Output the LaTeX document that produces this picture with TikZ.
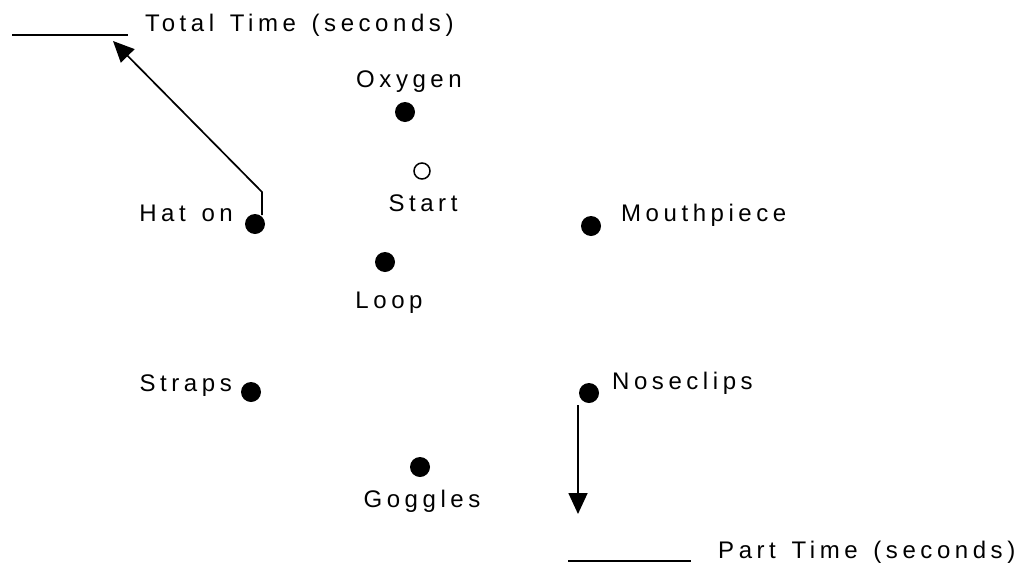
\documentclass[tikz,border=0pt]{standalone}
\usepackage{fontspec}
\newfontfamily\labfont{Liberation Sans}[LetterSpace=19,WordSpace=1.4]
\usetikzlibrary{arrows.meta}
\begin{document}
\begin{tikzpicture}[x=1pt,y=-1pt,
  lbl/.style={inner sep=0pt,font=\labfont\fontsize{24}{27}\selectfont},
  dot/.style={circle,fill=black,inner sep=0pt,minimum size=20pt},
  opendot/.style={circle,draw=black,line width=1.5pt,inner sep=0pt,minimum size=16pt},
  conn/.style={line width=1.7pt,-{Triangle[length=21pt,width=19pt]}},
  rule/.style={line width=1.3pt}]
\useasboundingbox (0,0) rectangle (1031,568);
% dots
\node[dot] (oxygen) at (405,112) {};
\node[opendot] (start) at (422,171) {};
\node[dot] (hat) at (255,224) {};
\node[dot] (mouth) at (591,226) {};
\node[dot] (loop) at (385,262) {};
\node[dot] (straps) at (251,392) {};
\node[dot] (nose) at (589,393) {};
\node[dot] (goggles) at (420,467) {};
% labels
\node[lbl,anchor=base] (oxygenL) at (409,87) {Oxygen};
\node[lbl,anchor=base] (startL) at (423,211) {Start};
\node[lbl,anchor=base east] (hatL) at (233,221) {Hat on};
\node[lbl,anchor=base west] (mouthL) at (621,221) {Mouthpiece};
\node[lbl,anchor=base] (loopL) at (389,308) {Loop};
\node[lbl,anchor=base east] (strapsL) at (232,391) {Straps};
\node[lbl,anchor=base west] (noseL) at (612,389) {Noseclips};
\node[lbl,anchor=base] (gogglesL) at (422,507) {Goggles};
\node[lbl,anchor=base west] (totalL) at (145,31) {Total Time (seconds)};
\node[lbl,anchor=base west] (partL) at (718,558) {Part Time (seconds)};
% answer rules
\coordinate (tl1) at (12,35);
\coordinate (tl2) at (128,35);
\coordinate (pl1) at (568,561);
\coordinate (pl2) at (691,561);
\draw[rule] (tl1) -- (tl2);
\draw[rule] (pl1) -- (pl2);
% arrows
\coordinate (hatA) at (262,215);
\coordinate (hatB) at (262,192);
\coordinate (totalTip) at (113,41);
\draw[conn] (hatA) -- (hatB) -- (totalTip);
\coordinate (noseA) at (578,405);
\coordinate (partTip) at (578,514);
\draw[conn] (noseA) -- (partTip);
\end{tikzpicture}
\end{document}
